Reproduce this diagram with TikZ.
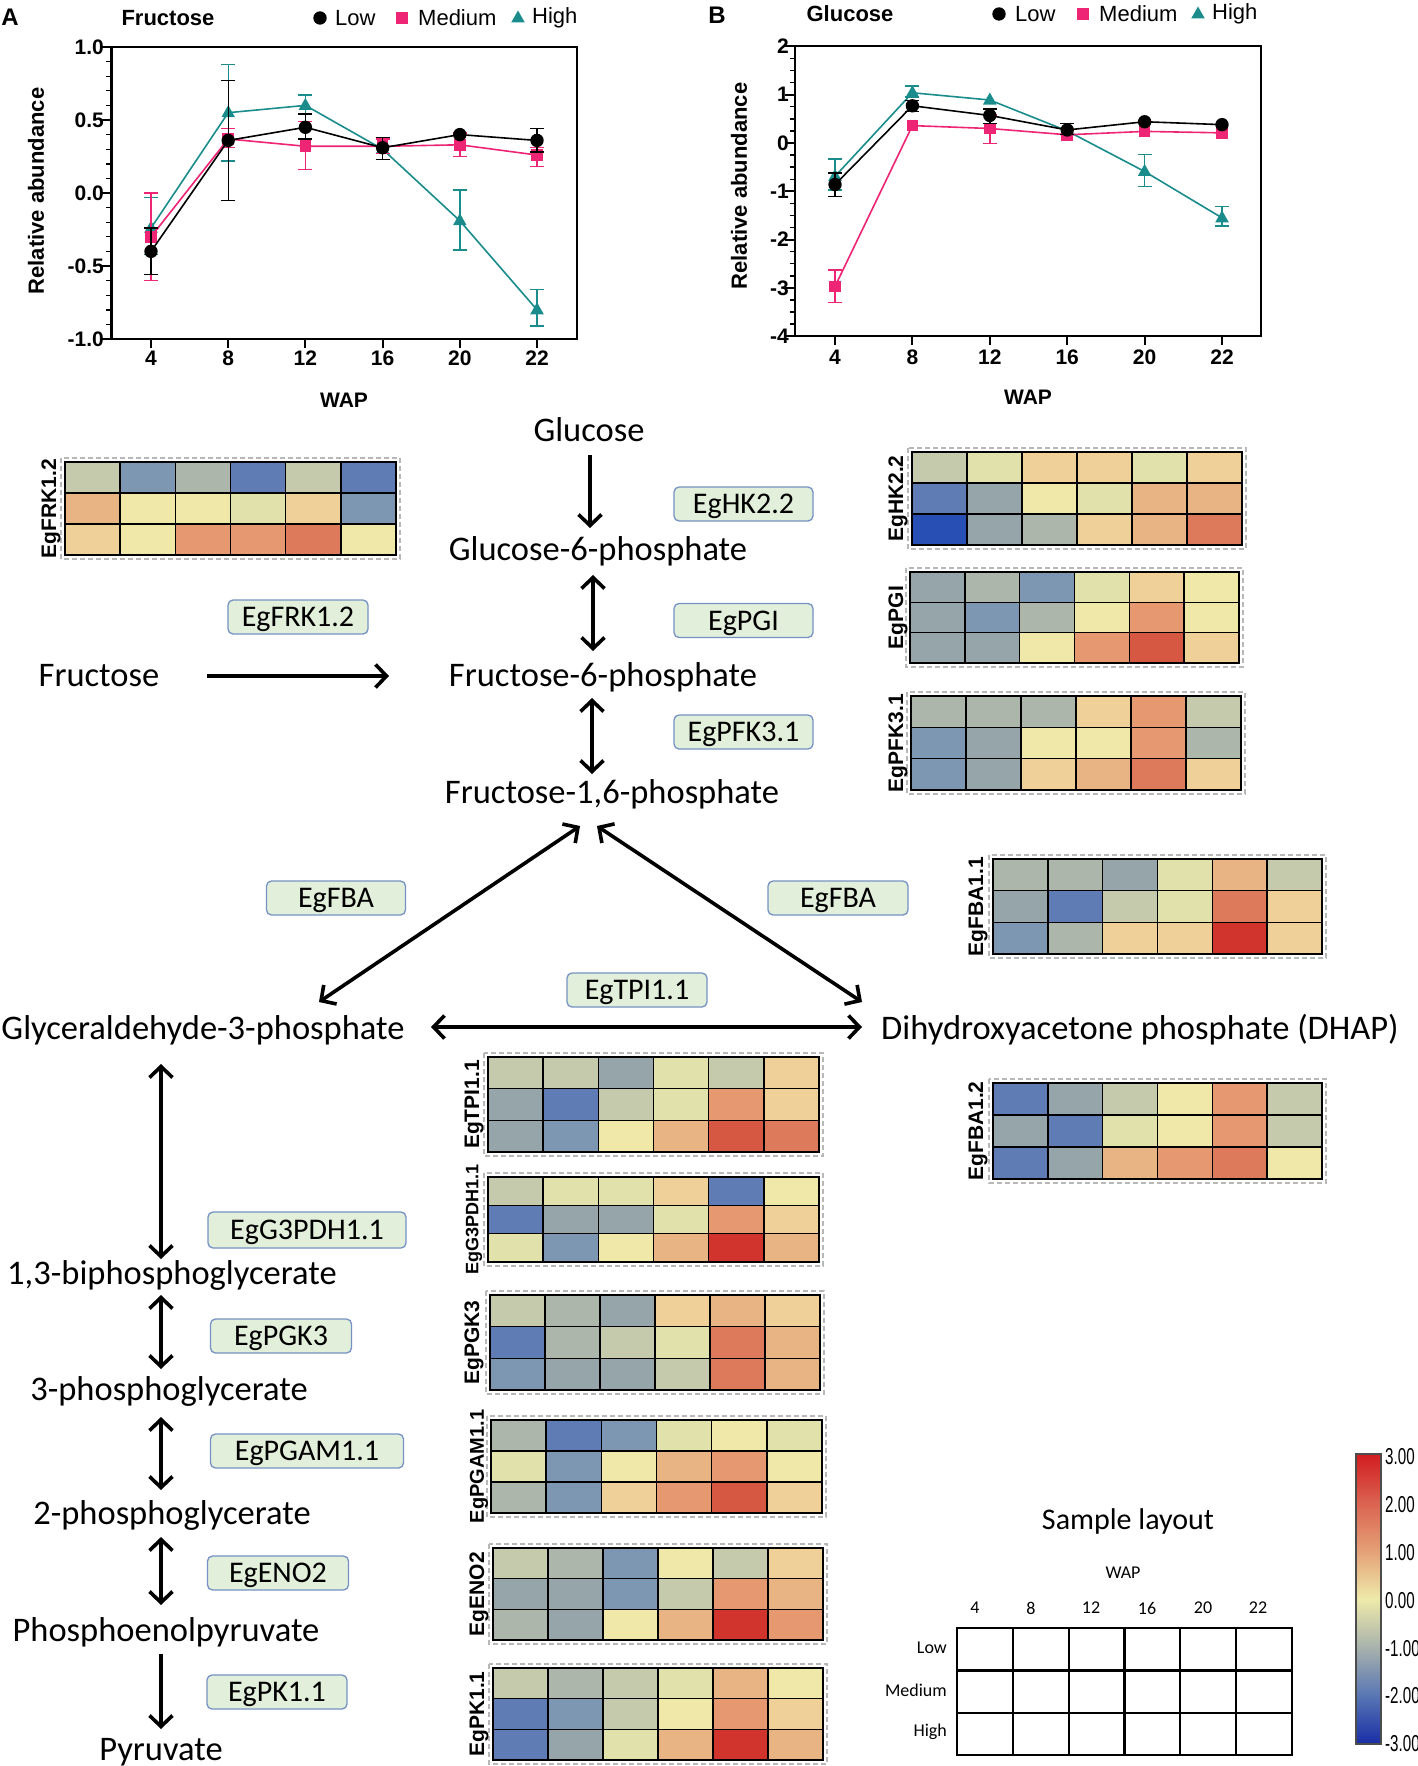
\documentclass[tikz,border=0pt]{standalone}
\usepackage{fontspec}
\setmainfont{Carlito}
\newfontfamily\arialf{Liberation Sans}
\usetikzlibrary{arrows.meta}
\definecolor{pinkc}{RGB}{238,36,116}
\definecolor{tealc}{RGB}{26,140,140}
\definecolor{boxfill}{RGB}{226,239,218}
\definecolor{boxdraw}{RGB}{118,146,196}
\definecolor{hB3}{RGB}{40,80,180}
\definecolor{hB2}{RGB}{95,125,180}
\definecolor{hB1}{RGB}{125,150,178}
\definecolor{hG2}{RGB}{150,165,170}
\definecolor{hG1}{RGB}{172,182,170}
\definecolor{hG0}{RGB}{198,202,172}
\definecolor{hY0}{RGB}{225,225,172}
\definecolor{hY}{RGB}{240,232,168}
\definecolor{hO1}{RGB}{238,208,152}
\definecolor{hO2}{RGB}{233,180,132}
\definecolor{hO3}{RGB}{230,152,112}
\definecolor{hR1}{RGB}{222,122,92}
\definecolor{hR2}{RGB}{215,88,66}
\definecolor{hR3}{RGB}{208,52,45}
\definecolor{cb3}{RGB}{210,28,32}
\definecolor{cb2}{RGB}{218,98,80}
\definecolor{cb1}{RGB}{228,160,118}
\definecolor{cb0}{RGB}{238,234,170}
\definecolor{cbm1}{RGB}{168,178,172}
\definecolor{cbm2}{RGB}{88,118,180}
\definecolor{cbm3}{RGB}{25,45,165}
% heatmap: name, label, x0, y0, x1, y1, colours, label x
\newcommand\hmap[8]{%
  \pgfmathsetmacro\hw{(#5-#3)/6}%
  \pgfmathsetmacro\hh{(#6-#4)/3}%
  \foreach \hc [count=\i from 0] in {#7}{%
    \pgfmathtruncatemacro\cc{mod(\i,6)}%
    \pgfmathtruncatemacro\rr{div(\i,6)}%
    \fill[fill=\hc] ({#3+\cc*\hw},{#4+\rr*\hh}) rectangle ++(\hw,\hh);
  }
  \foreach \k in {0,...,6} \draw[hgrid] ({#3+\k*\hw},#4) -- ({#3+\k*\hw},#6);
  \foreach \k in {0,...,3} \draw[hgrid] (#3,{#4+\k*\hh}) -- (#5,{#4+\k*\hh});
  \draw[hdash] (#3-4,#4-4) rectangle (#5+4,#6+4);
  \node[hlab] (#1) at (#8,{(#4+#6)/2}) {#2};
}
\newcommand\mdot[3]{\fill[#1] (#2,#3) circle[radius=6.7pt];}
\newcommand\msq[3]{\fill[#1] ([shift={(-5.8pt,-5.8pt)}]#2,#3) rectangle ([shift={(5.8pt,5.8pt)}]#2,#3);}
\newcommand\mtri[3]{\fill[#1] ([yshift=7.5pt]#2,#3) -- ([shift={(-6.8pt,-4.5pt)}]#2,#3) -- ([shift={(6.8pt,-4.5pt)}]#2,#3) -- cycle;}
\begin{document}
\begin{tikzpicture}[x=1pt,y=-1pt,
  met/.style={font=\fontsize{34.5}{40}\selectfont, inner sep=0pt, text height=22pt, text depth=0pt},
  enz/.style={draw=boxdraw, fill=boxfill, rounded corners=5pt, line width=1.3pt, minimum height=34pt, inner sep=0pt, font=\fontsize{30}{36}\selectfont, text height=19pt, text depth=0pt},
  sarr/.style={line width=3.6pt, -{Straight Barb[length=11pt,width=23pt]}},
  darr/.style={line width=3.6pt, {Straight Barb[length=11pt,width=23pt]}-{Straight Barb[length=11pt,width=23pt]}},
  hgrid/.style={line width=1.6pt, line cap=rect},
  hdash/.style={draw=black!28, line width=1.4pt, dash pattern=on 5pt off 3pt},
  hlab/.style={rotate=90, inner sep=0pt, font=\arialf\bfseries\fontsize{21}{24}\selectfont},
  tk/.style={font=\arialf\bfseries\fontsize{21}{24}\selectfont, inner sep=0pt},
  lg/.style={font=\arialf\fontsize{22}{26}\selectfont, inner sep=0pt, anchor=west},
  eb/.style={line width=1.4pt},
  sl/.style={font=\fontsize{18}{22}\selectfont, inner sep=0pt},
  cb/.style={font=\arialf\fontsize{23}{26}\selectfont, inner sep=0pt, anchor=west, xscale=0.66},
]
\useasboundingbox (0,0) rectangle (1417,1766);
\fill[white] (0,0) rectangle (1417,1766);

% ================= Chart A =================
\node[font=\arialf\bfseries\fontsize{24}{28}\selectfont, inner sep=0pt] (labA) at (10,17) {A};
\node[font=\arialf\bfseries\fontsize{22}{26}\selectfont, inner sep=0pt] (titA) at (168,18) {Fructose};
\mdot{black}{320}{18}
\node[lg] (lgA1) at (335,18) {Low};
\msq{pinkc}{402}{18}
\node[lg] (lgA2) at (418,18) {Medium};
\mtri{tealc}{518}{18}
\node[lg] (lgA3) at (532,18) {High};
\node[tk, font=\arialf\bfseries\fontsize{22}{26}\selectfont, rotate=90] (yA) at (36,191) {Relative abundance};
\node[tk] (wA) at (344,400) {WAP};
\begin{scope}[shift={(151,193)}, x=77.2pt, y=146pt]
  \draw[line width=2.2pt] (-0.512,-1) rectangle (5.518,1);
  \foreach \k in {-10,...,10} \draw[line width=1.4pt] (-0.512,\k/10) -- ++(-5pt,0pt);
  \foreach \v/\lbl [count=\n] in {-1/-1.0,-0.5/-0.5,0/0.0,0.5/0.5,1/1.0} {
    \draw[line width=2pt] (-0.512,\v) -- ++(-10pt,0pt);
    \node[tk, anchor=east] (ay\n) at (-0.609,\v) {\lbl};
  }
  \foreach \lbl [count=\n from 0] in {4,8,12,16,20,22} {
    \draw[line width=2pt] (\n,-1) -- ++(0pt,-9pt);
    \node[tk] (ax\n) at (\n,-1.134) {\lbl};
  }
  % High
  \draw[tealc, line width=1.6pt] (0,-0.24) -- (1,0.55) -- (2,0.60) -- (3,0.30) -- (4,-0.19) -- (5,-0.80);
  \foreach \i/\lo/\hi in {0/-0.42/-0.03, 1/0.22/0.88, 2/0.54/0.67, 4/-0.39/0.02, 5/-0.91/-0.66}
    \draw[eb,tealc] (\i,\lo) -- (\i,\hi) ([xshift=-7pt]\i,\lo) -- ([xshift=7pt]\i,\lo) ([xshift=-7pt]\i,\hi) -- ([xshift=7pt]\i,\hi);
  \foreach \i/\v in {0/-0.24,1/0.55,2/0.60,3/0.30,4/-0.19,5/-0.80} {\mtri{tealc}{\i}{\v}}
  % Medium
  \draw[pinkc, line width=1.6pt] (0,-0.30) -- (1,0.37) -- (2,0.32) -- (3,0.32) -- (4,0.33) -- (5,0.26);
  \foreach \i/\lo/\hi in {0/-0.60/0.00, 1/0.31/0.44, 2/0.16/0.49, 3/0.27/0.37, 4/0.25/0.41, 5/0.18/0.31}
    \draw[eb,pinkc] (\i,\lo) -- (\i,\hi) ([xshift=-7pt]\i,\lo) -- ([xshift=7pt]\i,\lo) ([xshift=-7pt]\i,\hi) -- ([xshift=7pt]\i,\hi);
  \foreach \i/\v in {0/-0.30,1/0.37,2/0.32,3/0.32,4/0.33,5/0.26} {\msq{pinkc}{\i}{\v}}
  % Low
  \draw[black, line width=1.6pt] (0,-0.40) -- (1,0.36) -- (2,0.45) -- (3,0.31) -- (4,0.40) -- (5,0.36);
  \foreach \i/\lo/\hi in {0/-0.56/-0.24, 1/-0.05/0.77, 2/0.37/0.54, 3/0.23/0.38, 5/0.28/0.44}
    \draw[eb,black] (\i,\lo) -- (\i,\hi) ([xshift=-7pt]\i,\lo) -- ([xshift=7pt]\i,\lo) ([xshift=-7pt]\i,\hi) -- ([xshift=7pt]\i,\hi);
  \foreach \i/\v in {0/-0.40,1/0.36,2/0.45,3/0.31,4/0.40,5/0.36} {\mdot{black}{\i}{\v}}
\end{scope}

% ================= Chart B =================
\node[font=\arialf\bfseries\fontsize{24}{28}\selectfont, inner sep=0pt] (labB) at (717,15) {B};
\node[font=\arialf\bfseries\fontsize{22}{26}\selectfont, inner sep=0pt] (titB) at (850,14) {Glucose};
\mdot{black}{999}{14}
\node[lg] (lgB1) at (1015,14) {Low};
\msq{pinkc}{1083}{14}
\node[lg] (lgB2) at (1099,14) {Medium};
\mtri{tealc}{1198}{14}
\node[lg] (lgB3) at (1212,14) {High};
\node[tk, font=\arialf\bfseries\fontsize{22}{26}\selectfont, rotate=90] (yB) at (739,186) {Relative abundance};
\node[tk] (wB) at (1028,397) {WAP};
\begin{scope}[shift={(835,143)}, x=77.4pt, y=48.3pt]
  \draw[line width=2.2pt] (-0.517,-4) rectangle (5.504,2);
  \foreach \k in {-16,...,8} \draw[line width=1.4pt] (-0.517,\k/4) -- ++(-5pt,0pt);
  \foreach \v [count=\n] in {-4,-3,-2,-1,0,1,2} {
    \draw[line width=2pt] (-0.517,\v) -- ++(-10pt,0pt);
    \node[tk, anchor=east] (by\n) at (-0.594,\v) {\v};
  }
  \foreach \lbl [count=\n from 0] in {4,8,12,16,20,22} {
    \draw[line width=2pt] (\n,-4) -- ++(0pt,-9pt);
    \node[tk] (bx\n) at (\n,-4.43) {\lbl};
  }
  % High
  \draw[tealc, line width=1.6pt] (0,-0.69) -- (1,1.04) -- (2,0.89) -- (3,0.25) -- (4,-0.59) -- (5,-1.55);
  \foreach \i/\lo/\hi in {0/-0.97/-0.33, 1/0.95/1.18, 4/-0.90/-0.24, 5/-1.72/-1.32}
    \draw[eb,tealc] (\i,\lo) -- (\i,\hi) ([xshift=-7pt]\i,\lo) -- ([xshift=7pt]\i,\lo) ([xshift=-7pt]\i,\hi) -- ([xshift=7pt]\i,\hi);
  \foreach \i/\v in {0/-0.69,1/1.04,2/0.89,3/0.25,4/-0.59,5/-1.55} {\mtri{tealc}{\i}{\v}}
  % Medium
  \draw[pinkc, line width=1.6pt] (0,-2.97) -- (1,0.36) -- (2,0.30) -- (3,0.17) -- (4,0.24) -- (5,0.21);
  \foreach \i/\lo/\hi in {0/-3.30/-2.63, 2/-0.01/0.58}
    \draw[eb,pinkc] (\i,\lo) -- (\i,\hi) ([xshift=-7pt]\i,\lo) -- ([xshift=7pt]\i,\lo) ([xshift=-7pt]\i,\hi) -- ([xshift=7pt]\i,\hi);
  \foreach \i/\v in {0/-2.97,1/0.36,2/0.30,3/0.17,4/0.24,5/0.21} {\msq{pinkc}{\i}{\v}}
  % Low
  \draw[black, line width=1.6pt] (0,-0.86) -- (1,0.77) -- (2,0.57) -- (3,0.27) -- (4,0.44) -- (5,0.38);
  \foreach \i/\lo/\hi in {0/-1.11/-0.62, 1/0.65/0.88, 2/0.40/0.70, 3/0.17/0.40}
    \draw[eb,black] (\i,\lo) -- (\i,\hi) ([xshift=-7pt]\i,\lo) -- ([xshift=7pt]\i,\lo) ([xshift=-7pt]\i,\hi) -- ([xshift=7pt]\i,\hi);
  \foreach \i/\v in {0/-0.86,1/0.77,2/0.57,3/0.27,4/0.44,5/0.38} {\mdot{black}{\i}{\v}}
\end{scope}

% ================= Pathway =================
\node[met] (glc) at (589,430) {Glucose};
\node[met] (g6p) at (598,549) {Glucose-6-phosphate};
\node[met] (f6p) at (603,675) {Fructose-6-phosphate};
\node[met] (f16p) at (612,792) {Fructose-1,6-phosphate};
\node[met] (fru) at (99,675) {Fructose};
\node[met] (g3p) at (203,1028) {Glyceraldehyde-3-phosphate};
\node[met] (dhap) at (1140,1028) {Dihydroxyacetone phosphate (DHAP)};
\node[met] (bpg) at (172,1273) {1,3-biphosphoglycerate};
\node[met] (pga3) at (169,1389) {3-phosphoglycerate};
\node[met] (pga2) at (172,1513) {2-phosphoglycerate};
\node[met] (pep) at (166,1630) {Phosphoenolpyruvate};
\node[met] (pyr) at (161,1749) {Pyruvate};

\draw[sarr] ([shift={(1,25)}]glc.center) -- ([shift={(-8,-21)}]g6p.center);
\draw[darr] ([shift={(-5,26)}]g6p.center) -- ([shift={(-10,-24)}]f6p.center);
\draw[darr] ([shift={(-11,23)}]f6p.center) -- ([shift={(-20,-18)}]f16p.center);
\draw[sarr] ([shift={(108,1)}]fru.center) -- ([shift={(-214,1)}]f6p.center);
\draw[darr] ([shift={(-32,34)}]f16p.center) -- ([shift={(116,-26)}]g3p.center);
\draw[darr] ([shift={(-15,34)}]f16p.center) -- ([shift={(-278,-26)}]dhap.center);
\draw[darr] ([shift={(228,-1)}]g3p.center) -- ([shift={(-278,-1)}]dhap.center);
\draw[darr] ([shift={(-42,36)}]g3p.center) -- ([shift={(-11,-14)}]bpg.center);
\draw[darr] ([shift={(-11,22)}]bpg.center) -- ([shift={(-8,-20)}]pga3.center);
\draw[darr] ([shift={(-8,28)}]pga3.center) -- ([shift={(-11,-23)}]pga2.center);
\draw[darr] ([shift={(-11,24)}]pga2.center) -- ([shift={(-5,-25)}]pep.center);
\draw[sarr] ([shift={(-5,24)}]pep.center) -- ([shift={(0,-20)}]pyr.center);

\node[enz, minimum width=139pt] (eHK) at (743.5,504) {EgHK2.2};
\node[enz, minimum width=139pt] (ePGI) at (743.5,620.5) {EgPGI};
\node[enz, minimum width=139pt] (ePFK) at (743.5,732) {EgPFK3.1};
\node[enz, minimum width=140pt] (eFRK) at (298,617) {EgFRK1.2};
\node[enz, minimum width=139pt] (eFBAl) at (336,898) {EgFBA};
\node[enz, minimum width=140pt] (eFBAr) at (838,898) {EgFBA};
\node[enz, minimum width=140pt] (eTPI) at (637,990) {EgTPI1.1};
\node[enz, minimum width=198pt, minimum height=36pt] (eG3P) at (307,1230) {EgG3PDH1.1};
\node[enz, minimum width=141pt] (ePGK) at (281,1336) {EgPGK3};
\node[enz, minimum width=193pt] (ePGAM) at (307,1451) {EgPGAM1.1};
\node[enz, minimum width=141pt] (eENO) at (278,1573) {EgENO2};
\node[enz, minimum width=140pt] (ePK) at (277,1692) {EgPK1.1};

% ================= Heatmaps =================
\hmap{hmFRK}{EgFRK1.2}{65}{462}{396}{555}{hG0,hB1,hG1,hB2,hG0,hB2,hO2,hY,hY,hY0,hO1,hB1,hO1,hY,hO3,hO3,hR1,hY}{51}
\hmap{hmHK}{EgHK2.2}{912}{452}{1242}{545}{hG0,hY0,hO1,hO1,hY0,hO1,hB2,hG2,hY,hY0,hO2,hO2,hB3,hG2,hG1,hO1,hO2,hR1}{898}
\hmap{hmPGI}{EgPGI}{910}{572}{1239}{663}{hG2,hG1,hB1,hY0,hO1,hY,hG2,hB1,hG1,hY,hO3,hY,hG2,hG2,hY,hO3,hR2,hO1}{898}
\hmap{hmPFK}{EgPFK3.1}{911}{696}{1241}{790}{hG1,hG1,hG1,hO1,hO3,hG0,hB1,hG2,hY,hY,hO3,hG1,hB1,hG2,hO1,hO2,hR1,hO1}{898}
\hmap{hmFBAa}{EgFBA1.1}{993}{859}{1322}{954}{hG1,hG1,hG2,hY0,hO2,hG0,hG2,hB2,hG0,hY0,hR1,hO1,hB1,hG1,hO1,hO1,hR3,hO1}{978}
\hmap{hmFBAb}{EgFBA1.2}{993}{1083}{1322}{1179}{hB2,hG2,hG0,hY,hO3,hG0,hG2,hB2,hY0,hY,hO3,hG0,hB2,hG2,hO2,hO3,hR1,hY}{978}
\hmap{hmTPI}{EgTPI1.1}{488}{1057}{819}{1152}{hG0,hG0,hG2,hY0,hG0,hO1,hG2,hB2,hG0,hY0,hO3,hO1,hG2,hB1,hY,hO2,hR2,hR1}{474}
\hmap{hmG3P}{{\fontsize{18}{20}\selectfont EgG3PDH1.1}}{488}{1177}{819}{1262}{hG0,hY0,hY0,hO1,hB2,hY,hB2,hG2,hG2,hY0,hO3,hO1,hY0,hB1,hY,hO2,hR3,hO2}{474}
\hmap{hmPGK}{EgPGK3}{490}{1295}{820}{1390}{hG0,hG1,hG2,hO1,hO2,hO1,hB2,hG1,hG0,hY0,hR1,hO2,hB1,hG2,hG2,hG0,hR1,hO2}{474}
\hmap{hmPGAM}{{\fontsize{20}{22}\selectfont EgPGAM1.1}}{491}{1420}{822}{1513}{hG1,hB2,hB1,hY0,hY,hY0,hY0,hB1,hY,hO2,hO3,hY,hG1,hB1,hO1,hO3,hR2,hO1}{479}
\hmap{hmENO}{EgENO2}{493}{1548}{823}{1640}{hG0,hG1,hB1,hY,hG0,hO1,hG2,hG2,hB1,hG0,hO3,hO2,hG1,hG2,hY,hO2,hR3,hO3}{479}
\hmap{hmPK}{EgPK1.1}{493}{1668}{823}{1760}{hG0,hG1,hG0,hY0,hO2,hY,hB2,hB1,hG0,hY,hO3,hO1,hB2,hG2,hY0,hO2,hR3,hO2}{479}

% ================= Sample layout =================
\node[font=\fontsize{30}{36}\selectfont, inner sep=0pt] (slt) at (1128,1521) {Sample layout};
\node[sl] (swap) at (1123,1573) {WAP};
\foreach \lbl/\xx [count=\n] in {4/975,8/1031,12/1091,16/1147,20/1203,22/1258}
  \node[sl] (sc\n) at (\xx,1608) {\lbl};
\node[sl, anchor=east] (srL) at (947,1648) {Low};
\node[sl, anchor=east] (srM) at (947,1690) {Medium};
\node[sl, anchor=east] (srH) at (947,1732) {High};
\draw[line width=2.3pt] (957,1628) rectangle (1292,1755);
\foreach \k in {1,...,5} \draw[line width=2.3pt] ({957+\k*55.83},1628) -- ({957+\k*55.83},1755);
\foreach \k in {1,2} \draw[line width=2.3pt] (957,{1628+\k*42.33}) -- (1292,{1628+\k*42.33});

% ================= Colour bar =================
\foreach \a/\b [count=\n from 0] in {cb3/cb2,cb2/cb1,cb1/cb0,cb0/cbm1,cbm1/cbm2,cbm2/cbm3}
  \shade[top color=\a, bottom color=\b] (1356,{1454+\n*48.33}) rectangle (1381,{1454+(\n+1)*48.33});
\draw[black!70, line width=1.3pt] (1356,1454) rectangle (1381,1744);
\foreach \lbl [count=\n from 0] in {3.00,2.00,1.00,0.00,-1.00,-2.00,-3.00}
  \node[cb] (cbl\n) at (1385,{1457+\n*47.8}) {\lbl};
\end{tikzpicture}
\end{document}
